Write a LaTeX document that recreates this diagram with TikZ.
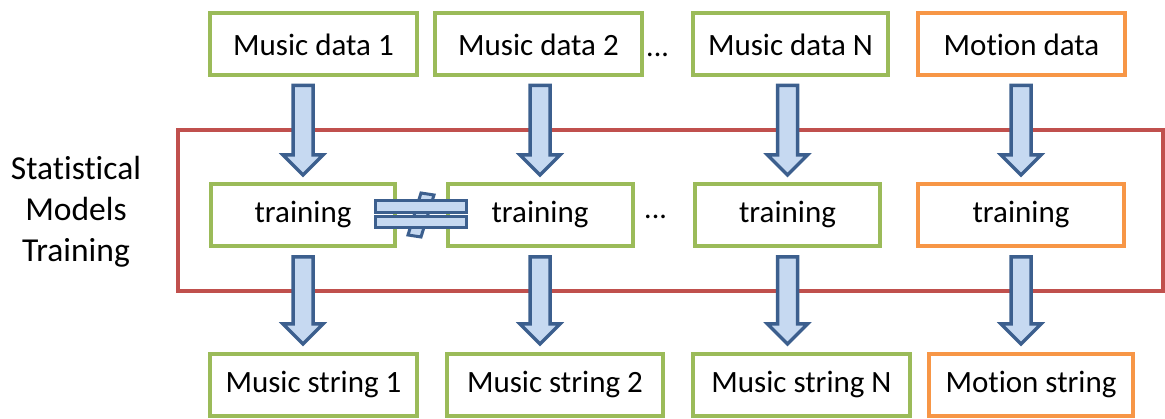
\documentclass[tikz,border=0pt]{standalone}
\usepackage{fontspec}
\setmainfont{Carlito}[Ligatures=NoCommon]
\usetikzlibrary{calc}
\definecolor{bgreen}{HTML}{9BBB59}
\definecolor{borange}{HTML}{F79646}
\definecolor{bred}{HTML}{C0504D}
\definecolor{afill}{HTML}{C6D9F1}
\definecolor{aline}{HTML}{3C5F8E}
\tikzset{
  box/.style={draw=bgreen, line width=4pt, fill=white, minimum height=62pt, inner sep=0pt,
    font=\fontsize{31}{36}\selectfont},
  obox/.style={box, draw=borange},
  arrowsty/.style={draw=aline, fill=afill, line width=3.5pt, line join=miter},
  dotsty/.style={font=\fontsize{30}{36}\selectfont, inner sep=0pt}
}
\newcommand\barrow[2]{%
  \draw[arrowsty] let \p1=#1, \p2=#2 in
    (\x1-10pt,\y1) -- (\x1+10pt,\y1) -- (\x1+10pt,\y2+20pt) -- (\x1+20pt,\y2+20pt)
    -- (\x1,\y2) -- (\x1-20pt,\y2+20pt) -- (\x1-10pt,\y2+20pt) -- cycle;}
\begin{document}
\begin{tikzpicture}[x=1pt,y=-1pt]
\useasboundingbox (0,0) rectangle (1165,419);
% red frame
\draw[bred, line width=4pt] (178,130) rectangle (1163,291);
\node[align=center, font=\fontsize{33.5}{41}\selectfont, inner sep=0pt] (lbl) at (76,212) {Statistical\\Models\\Training};
% top boxes
\node[box, minimum width=207pt] (md1) at (313.5,44.5) {Music data 1};
\node[box, minimum width=207pt] (md2) at (538.5,44.5) {Music data 2};
\node[box, minimum width=195pt] (mdN) at (790.5,44.5) {Music data N};
\node[obox, minimum width=207pt] (mod) at (1021.5,44.5) {Motion data};
\node[dotsty, anchor=base west] (dots1) at (646,57) {...};
% middle boxes
\node[box, minimum width=184pt] (t1) at (303,215) {training};
\node[box, minimum width=185pt] (t2) at (540,215) {training};
\node[box, minimum width=185pt] (t3) at (787.5,215) {training};
\node[obox, minimum width=206pt] (t4) at (1021,215) {training};
\node[dotsty, anchor=base west] (dots2) at (644,219) {...};
% bottom boxes
\node[box, minimum width=207pt] (ms1) at (313.5,385) {Music string 1};
\node[box, minimum width=216pt] (ms2) at (555,385) {Music string 2};
\node[box, minimum width=217pt] (msN) at (801.5,385) {Music string N};
\node[obox, minimum width=204pt] (mos) at (1031,385) {Motion string};
% arrows
\foreach \a/\b/\c in {md1/t1/ms1, md2/t2/ms2, mdN/t3/msN, mod/t4/mos}{
  \barrow{($(\b.north |- \a.south)+(0,8)$)}{($(\b.north)+(0,-7)$)}
  \barrow{($(\b.south)+(0,9)$)}{($(\b.south |- \c.north)+(0,-8)$)}
}
% not-equal sign
\draw[arrowsty, line width=3pt] (421,193) -- (434,195) -- (421,237) -- (408,235) -- cycle;
\draw[arrowsty, line width=3pt] (375,201) rectangle (466,213);
\draw[arrowsty, line width=3pt] (375,217) rectangle (466,228);
\end{tikzpicture}
\end{document}
